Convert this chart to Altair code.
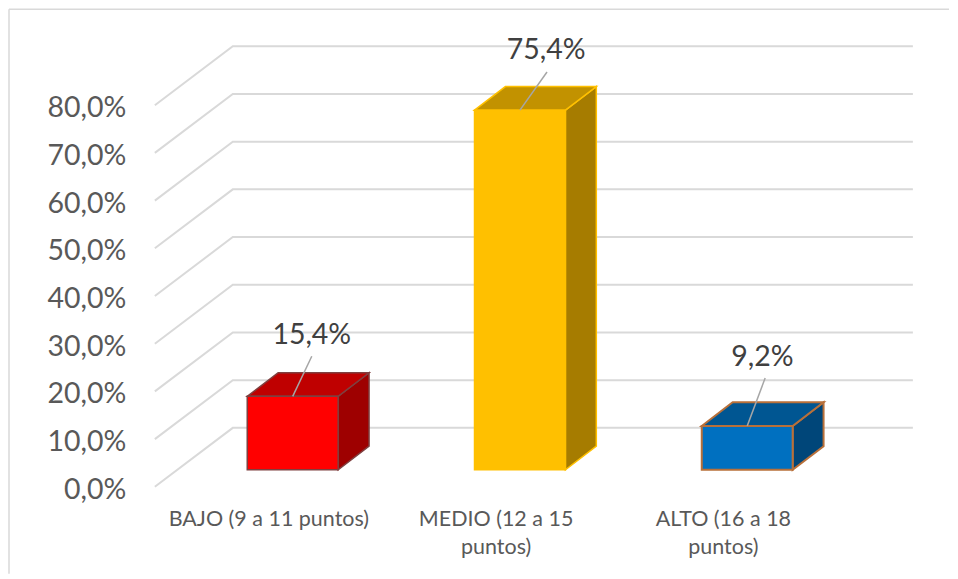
import altair as alt
import pandas as pd

# ---- values ----
categories = ["BAJO", "MEDIO", "ALTO"]
values = [15.4, 75.4, 9.2]
value_labels = ["15,4%", "75,4%", "9,2%"]
category_lines = [["BAJO (9 a 11 puntos)"], ["MEDIO (12 a 15", "puntos)"], ["ALTO (16 a 18", "puntos)"]]
axis_ticks = [0, 10, 20, 30, 40, 50, 60, 70, 80]

# ---- 3D projection and styles ----
front_fill = ["#FF0000", "#FFC000", "#0070C0"]
top_fill = ["#BF0000", "#C29200", "#005692"]
side_fill = ["#9E0000", "#A67C00", "#004679"]
edge = ["#7F3F3F", "#FFC000", "#B8703A"]
edge_width = [1.5, 1.5, 2]
leader_du = [0.084, 0.119, 0.079]
leader_dv = [8.4, 8.0, 10.05]
label_dv = 4.4
label_du = [0.0, -0.004, -0.012]
label_lift = [0.0, 0.3, 0.0]

U = 227.5      # px per category
V = 4.775      # px per percent
half_w = 0.2   # half bar width (category units)
base_v = 3.56   # bar foot relative to the front axis plane
bar_du, bar_dv = 0.136, 4.95   # bar depth
wall_du, wall_dv = 0.343, 12.36  # floor depth
grid_right = 2.729
grid_left = -0.6066
cat_shift = -0.105
line1_v, line2_v = -7.0, -12.9

LEFT = 119                # room for the value axis
ORIGIN = 9                # page margin plus the frame's half stroke
W, H = 941 - LEFT, 565    # plot area
x_scale = alt.Scale(domain=[(ORIGIN + LEFT - 293) / U, (ORIGIN + LEFT + W - 293) / U], nice=False, zero=False)
y_scale = alt.Scale(domain=[(487 - ORIGIN - H) / V, (487 - ORIGIN) / V], nice=False, zero=False)

value_axis = alt.Axis(
    values=axis_ticks, orient="left", domain=False, ticks=False, grid=False,
    labelPadding=2, labelOffset=2.5, labelFont="Lato", labelFontSize=28.5, labelColor="#595959", title=None,
    labelExpr="replace(format(datum.value,'.1f'),'.',',')+'%'",
)


def X(f="u"):
    return alt.X(f"{f}:Q", scale=x_scale, axis=None)


def Y(f="v"):
    return alt.Y(f"{f}:Q", scale=y_scale, axis=value_axis)


layers = []

# wall grid lines
grid_rows = []
for t in axis_ticks:
    grid_rows += [
        {"t": t, "o": 0, "u": grid_left, "v": t},
        {"t": t, "o": 1, "u": grid_left + wall_du, "v": t + wall_dv},
        {"t": t, "o": 2, "u": grid_right, "v": t + wall_dv},
    ]
layers.append(
    alt.Chart(pd.DataFrame(grid_rows))
    .mark_line(color="#D9D9D9", strokeWidth=2)
    .encode(x=X(), y=Y(), detail="t:N", order="o:Q")
)

# the boxes
for i, val in enumerate(values):
    l, r = i - half_w, i + half_w
    lo, hi = base_v, base_v + val
    side = pd.DataFrame([
        {"u": r, "v": hi, "v2": lo},
        {"u": r + bar_du, "v": hi + bar_dv, "v2": lo + bar_dv},
    ])
    top = pd.DataFrame([
        {"u": l, "v": hi, "v2": hi},
        {"u": l + bar_du, "v": hi + bar_dv, "v2": hi},
        {"u": r, "v": hi + bar_dv, "v2": hi},
        {"u": r + bar_du, "v": hi + bar_dv, "v2": hi + bar_dv},
    ])
    front = pd.DataFrame([{"u": l, "u2": r, "v": hi, "v2": lo}])
    for df, fill in ((side, side_fill[i]), (top, top_fill[i])):
        layers.append(
            alt.Chart(df)
            .mark_area(color=fill, stroke=edge[i], strokeWidth=edge_width[i], orient="vertical", opacity=1)
            .encode(x=X(), y=Y(), y2="v2:Q")
        )
    layers.append(
        alt.Chart(front)
        .mark_rect(color=front_fill[i], stroke=edge[i], strokeWidth=edge_width[i])
        .encode(x=X(), x2="u2:Q", y=Y(), y2="v2:Q")
    )
    # leader line
    leader = pd.DataFrame([
        {"o": 0, "u": i, "v": hi},
        {"o": 1, "u": i + leader_du[i], "v": hi + leader_dv[i]},
    ])
    layers.append(
        alt.Chart(leader).mark_line(color="#A6A6A6", strokeWidth=1.5).encode(x=X(), y=Y(), order="o:Q")
    )

# value labels
label_df = pd.DataFrame({
    "u": [i + leader_du[i] + label_du[i] for i in range(3)],
    "v": [base_v + values[i] + leader_dv[i] + label_dv + label_lift[i] for i in range(3)],
    "s": value_labels,
})
layers.append(
    alt.Chart(label_df)
    .mark_text(font="Lato", fontSize=28.5, color="#404040", align="center", baseline="middle")
    .encode(x=X(), y=Y(), text="s:N")
)

# category labels
cat_rows = []
for i, lines in enumerate(category_lines):
    for k, s in enumerate(lines):
        cat_rows.append({"u": i + cat_shift, "v": line1_v if k == 0 else line2_v, "s": s})
layers.append(
    alt.Chart(pd.DataFrame(cat_rows))
    .mark_text(font="Lato", fontSize=21.5, color="#595959", align="center", baseline="middle")
    .encode(x=X(), y=Y(), text="s:N")
)

# chart frame: top and left edges
layers.append(
    alt.Chart(pd.DataFrame({"a": [0]}))
    .mark_rule(color="#D9D9D9", strokeWidth=1.5, clip=False)
    .encode(x=alt.value(-LEFT), x2=alt.value(W), y=alt.value(0))
)
layers.append(
    alt.Chart(pd.DataFrame({"a": [0]}))
    .mark_rule(color="#D9D9D9", strokeWidth=1.5, clip=False)
    .encode(x=alt.value(-LEFT), y=alt.value(0), y2=alt.value(H))
)

chart = (
    alt.layer(*layers)
    .properties(width=W, height=H, padding=0, autosize=alt.AutoSizeParams(type="pad"), background="white")
    .configure_view(stroke=None)
)
chart.save("out.html", embed_options={"renderer": "svg", "actions": False})
